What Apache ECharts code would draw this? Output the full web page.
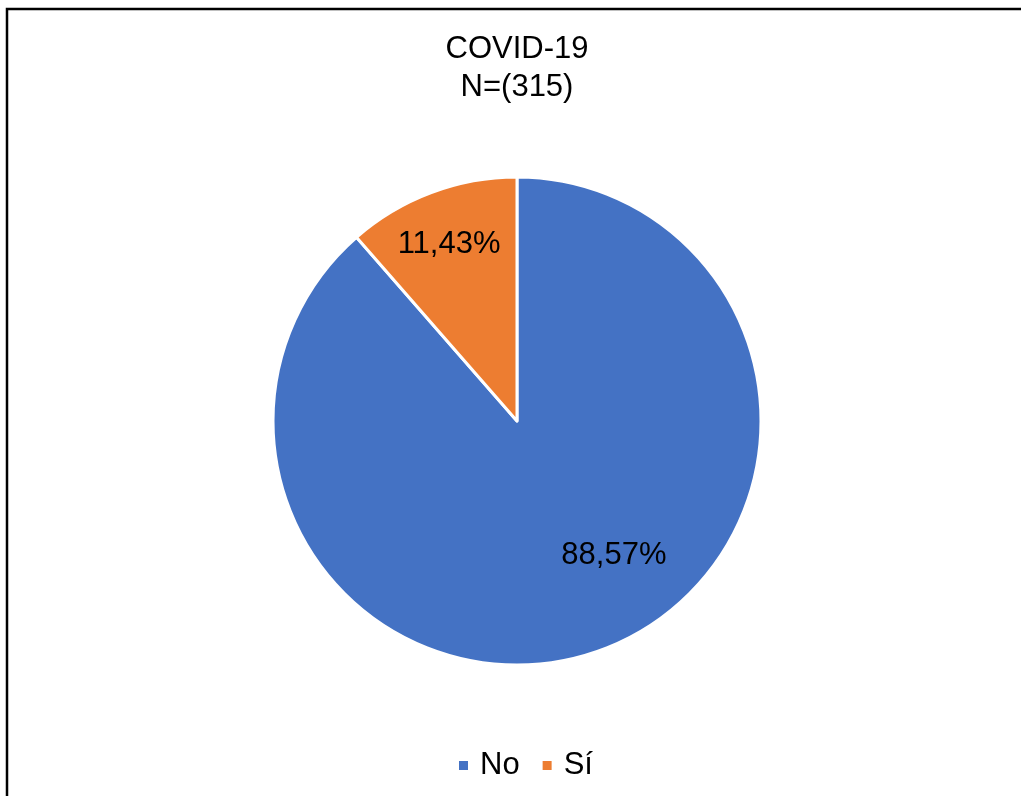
<!DOCTYPE html>
<html>
<head>
<meta charset="utf-8">
<script src="https://cdn.jsdelivr.net/npm/echarts@6/dist/echarts.min.js"></script>
<style>
html,body{margin:0;padding:0;background:#fff;}
#chart{width:1021px;height:796px;}
</style>
</head>
<body>
<div id="chart"></div>
<script>
const categories = ['No', 'Sí'];
const counts = [279, 36];
const colors = ['#4472C4', '#ED7D31'];
const titleText = 'COVID-19\nN=(315)';

const total = counts.reduce((a, b) => a + b, 0);
const labelOffsets = [[53, 17], [-24, -60]];
const FONT = 'Liberation Sans, Arial, sans-serif';

const chart = echarts.init(document.getElementById('chart'));
chart.setOption({
  backgroundColor: '#fff',
  animation: false,
  title: {
    text: titleText,
    left: 517,
    textAlign: 'center',
    top: 30,
    padding: 0,
    textStyle: {
      fontFamily: FONT,
      fontSize: 31,
      fontWeight: 'normal',
      color: '#000',
      lineHeight: 38
    }
  },
  legend: {
    data: categories,
    top: 745,
    left: 452,
    icon: 'rect',
    itemWidth: 11,
    itemHeight: 11,
    itemGap: 21,
    textStyle: {
      fontFamily: FONT,
      fontSize: 31,
      color: '#000',
      padding: [0, 0, 0, 6]
    }
  },
  graphic: [{
    type: 'rect',
    shape: { x: 7, y: 9, width: 1100, height: 1000 },
    style: { fill: 'none', stroke: '#000', lineWidth: 2.5 },
    silent: true
  }],
  series: [{
    type: 'pie',
    center: [517, 421],
    radius: 244,
    startAngle: 90,
    clockwise: true,
    itemStyle: { borderColor: '#fff', borderWidth: 3 },
    label: {
      show: true,
      position: 'inside',
      fontFamily: FONT,
      fontSize: 31,
      color: '#000',
      formatter: p => (p.value / total * 100).toFixed(2).replace('.', ',') + '%'
    },
    labelLine: { show: false },
    data: categories.map((c, i) => ({
      name: c,
      value: counts[i],
      itemStyle: { color: colors[i] },
      label: { offset: labelOffsets[i] }
    }))
  }]
});
</script>
</body>
</html>
